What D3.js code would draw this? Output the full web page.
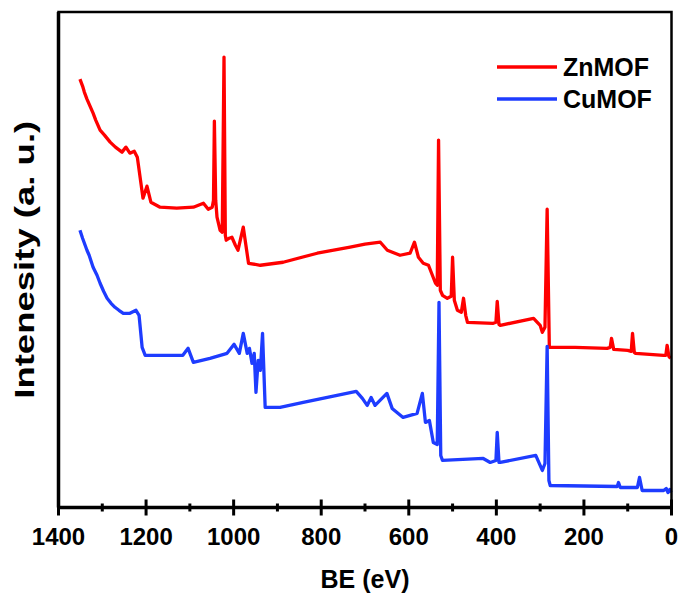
<!DOCTYPE html>
<html>
<head>
<meta charset="utf-8">
<script src="https://cdn.jsdelivr.net/npm/d3@7"></script>
<style>
  body { margin: 0; background: #fff; }
  svg { display: block; font-family: "Liberation Sans", Arial, sans-serif; }
  .frame { fill: none; stroke: #000; stroke-width: 2.5; }
  .spectrum { fill: none; stroke-width: 3.3; stroke-linejoin: round; }
  .tick-label { font-size: 24px; font-weight: bold; }
  .axis-title { font-size: 25px; font-weight: bold; }
  .legend-text { font-size: 25px; font-weight: bold; }
</style>
</head>
<body>
<svg id="chart" width="681" height="594"></svg>
<script>
// binding energy (eV) / intensity (a.u.)
var znBE = [1351, 1345, 1341, 1335, 1321, 1315, 1305, 1295, 1282, 1270, 1255, 1246, 1237, 1227, 1220, 1207,
  1198, 1189, 1168, 1130, 1092, 1069, 1058, 1049, 1046, 1044, 1041, 1038, 1031, 1026, 1022, 1019, 1017,
  1010, 1004, 996, 990, 978, 972, 966, 939, 887, 809, 734, 700, 665, 649, 620, 597, 587, 578, 567, 555,
  539, 535, 532, 528, 523, 512, 503, 500, 496, 489, 480, 475, 470, 466, 407, 401, 398, 394, 391, 315, 300,
  295, 289, 284, 279, 220, 147, 140, 137, 132, 100, 92, 89, 85, 82, 18, 13, 10, 6, 2];
var znIntensity = [428, 421, 415, 408, 394, 387, 377, 372, 365, 360, 355, 360, 354, 356, 350, 309,
  321, 305, 300, 299, 300, 304, 298, 300, 307, 386, 307, 290, 277, 275, 450, 272, 267,
  269, 270, 262, 257, 280, 262, 244, 242, 245, 254, 260, 263, 265, 257, 252, 254, 265, 250, 244, 242,
  224, 222, 367, 217, 212, 209, 211, 250, 207, 197, 195, 209, 192, 185, 184, 185, 206, 183, 182, 189, 182,
  175, 180, 298, 160, 160, 159, 160, 169, 158, 157, 156, 174, 155, 154, 152, 152, 162, 151, 149];

var cuBE = [1351, 1345, 1335, 1330, 1321, 1312, 1305, 1297, 1289, 1280, 1271, 1262, 1252, 1237, 1223, 1216,
  1209, 1202, 1160, 1116, 1104, 1098, 1092, 1054, 1015, 999, 987, 978, 969, 964, 958, 953, 949, 944, 939,
  934, 928, 894, 841, 764, 720, 706, 695, 686, 677, 650, 638, 613, 581, 569, 562, 553, 544, 535, 531, 527,
  523, 430, 414, 401, 398, 394, 391, 310, 295, 289, 284, 280, 277, 124, 121, 117, 78, 73, 67, 18, 12, 8, 4, 1];
var cuIntensity = [277, 269, 257, 252, 240, 232, 224, 216, 209, 204, 200, 197, 194, 194, 197, 192,
  160, 152, 152, 152, 159, 152, 145, 149, 154, 163, 154, 174, 154, 159, 144, 154, 115, 147, 137,
  174, 100, 100, 105, 112, 116, 109, 102, 110, 102, 114, 99, 90, 94, 114, 85, 87, 65, 63, 205, 52,
  47, 49, 45, 47, 75, 45, 45, 52, 37, 44, 161, 27, 22, 21, 25, 20, 20, 30, 17, 17, 19, 15, 18, 15];

var majorTicks = [1400, 1200, 1000, 800, 600, 400, 200, 0];
var minorTicks = [1300, 1100, 900, 700, 500, 300, 100];
var seriesNames = ['ZnMOF', 'CuMOF'];
var seriesColors = ['#ff0000', '#1e3cff'];

var svg = d3.select('#chart');

// plot box (window.top is taken, hence the prefix)
var plotLeft = 58.5, plotRight = 671.5, plotTop = 12, plotBottom = 507.5;

var x = d3.scaleLinear().domain([1400, 0]).range([plotLeft, plotRight]);
var y = d3.scaleLinear().domain([0, 495]).range([plotBottom, plotTop]);

function toPoints(be, vals) {
  return be.map(function(d, i) { return [d, vals[i]]; });
}

var series = [
  toPoints(znBE, znIntensity),
  toPoints(cuBE, cuIntensity)
];

var line = d3.line()
  .x(function(d) { return x(d[0]); })
  .y(function(d) { return y(d[1]); })
;

svg.append('g')
  .selectAll('path')
  .data(series)
  .enter()
  .append('path')
  .attr('class', 'spectrum')
  .attr('stroke', function(d, i) { return seriesColors[i]; })
  .attr('d', line)
;

// box around the plot
svg.append('rect')
  .attr('class', 'frame')
  .attr('x', plotLeft)
  .attr('y', plotTop)
  .attr('width', plotRight - plotLeft)
  .attr('height', plotBottom - plotTop)
;
svg.append('line')   // left and bottom a bit heavier
  .attr('x1', plotLeft).attr('x2', plotLeft)
  .attr('y1', plotTop).attr('y2', plotBottom)
  .attr('stroke', '#000').attr('stroke-width', 3.5)
;
svg.append('line')
  .attr('x1', plotLeft - 1.5).attr('x2', plotRight + 1)
  .attr('y1', plotBottom).attr('y2', plotBottom)
  .attr('stroke', '#000').attr('stroke-width', 3.5)
;

// ticks cross the bottom axis
var ticks = svg.append('g');
ticks.selectAll('line.major')
  .data(majorTicks)
  .enter()
  .append('line')
  .attr('class', 'major')
  .attr('x1', x).attr('x2', x)
  .attr('y1', plotBottom - 8).attr('y2', plotBottom + 8)
  .attr('stroke', '#000').attr('stroke-width', 3)
;
ticks.selectAll('line.minor')
  .data(minorTicks)
  .enter()
  .append('line')
  .attr('class', 'minor')
  .attr('x1', x).attr('x2', x)
  .attr('y1', plotBottom - 4).attr('y2', plotBottom + 4)
  .attr('stroke', '#000').attr('stroke-width', 3)
;
ticks.selectAll('text')
  .data(majorTicks)
  .enter()
  .append('text')
  .attr('class', 'tick-label')
  .attr('x', x)
  .attr('y', 545)
  .attr('text-anchor', 'middle')
  .text(function(d) { return d; })
;

svg.append('text')
  .attr('class', 'axis-title')
  .attr('x', (plotLeft + plotRight) / 2)
  .attr('y', 588)
  .attr('text-anchor', 'middle')
  .text('BE (eV)')
;

svg.append('text')
  .attr('class', 'axis-title')
  .attr('transform', 'translate(34,' + ((plotTop + plotBottom) / 2) + ') rotate(-90)')
  .attr('text-anchor', 'middle')
  .style('font-size', '27px')
  .attr('textLength', 278)
  .attr('lengthAdjust', 'spacingAndGlyphs')
  .text('Intenesity (a. u.)')
;

// legend
var legend = svg.append('g')
  .selectAll('g')
  .data(seriesNames)
  .enter()
  .append('g')
  .attr('transform', function(d, i) { return 'translate(497,' + (67 + i * 32) + ')'; })
;
legend.append('line')
  .attr('x1', 0).attr('x2', 60)
  .attr('y1', 0).attr('y2', 0)
  .attr('stroke', function(d, i) { return seriesColors[i]; })
  .attr('stroke-width', 3.3)
;
legend.append('text')
  .attr('class', 'legend-text')
  .attr('x', 66)
  .attr('y', 9)
  .text(function(d) { return d; })
;
</script>
</body>
</html>
